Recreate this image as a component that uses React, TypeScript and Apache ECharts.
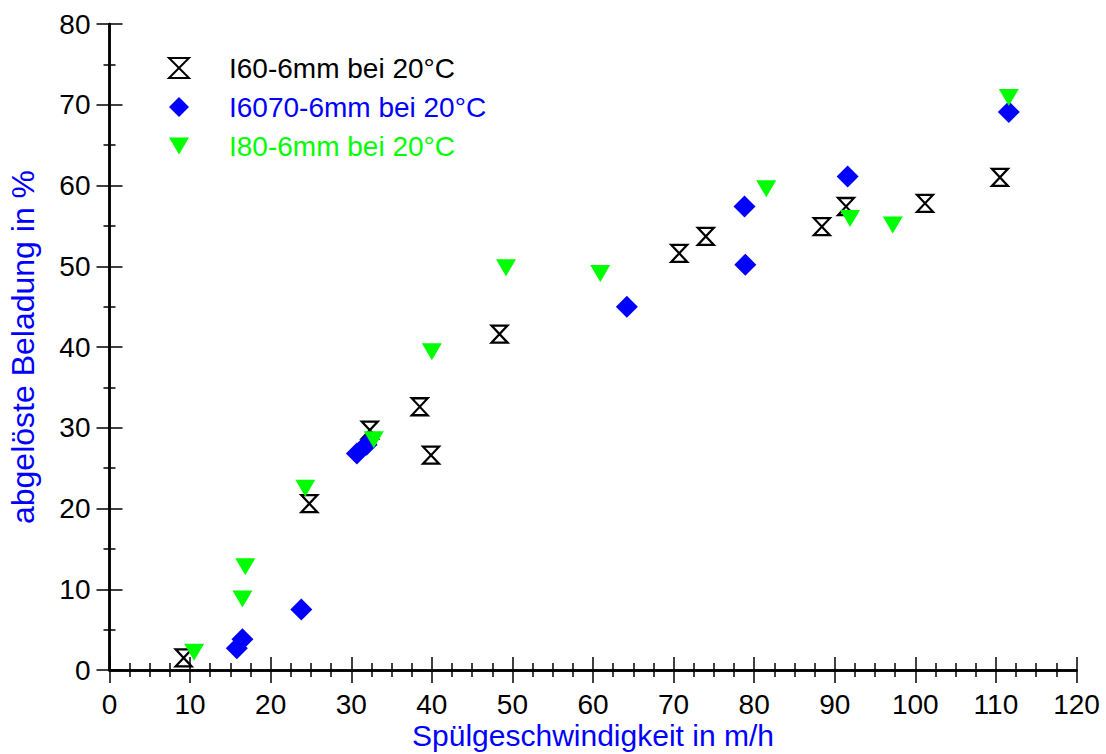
import React, { useEffect, useRef } from "react";
import * as echarts from "echarts";

const seriesNames = ["I60-6mm bei 20°C", "I6070-6mm bei 20°C", "I80-6mm bei 20°C"];
const seriesColors = ["#000000", "#0000ff", "#00ff00"];

const i60: [number, number][] = [
  [9.2, 1.5], [24.8, 20.6], [32.3, 29.7], [38.5, 32.6], [39.9, 26.6], [48.4, 41.6],
  [70.7, 51.6], [74.0, 53.7], [88.4, 54.9], [91.4, 57.4], [101.2, 57.8], [110.5, 61.0],
];
const i6070: [number, number][] = [
  [15.8, 2.7], [16.5, 3.8], [23.8, 7.5], [30.7, 26.8], [31.9, 27.9], [64.2, 45.0],
  [78.8, 57.4], [78.9, 50.2], [91.6, 61.1], [111.6, 69.1],
];
const i80: [number, number][] = [
  [10.5, 2.2], [16.5, 8.8], [16.85, 12.8], [24.3, 22.5], [32.8, 28.5], [40.0, 39.4],
  [49.2, 49.8], [60.9, 49.1], [81.5, 59.6], [91.9, 55.9], [97.2, 55.1], [111.6, 70.9],
];

const xTitle = "Spülgeschwindigkeit in m/h";
const yTitle = "abgelöste Beladung in %";
const xMin = 0, xMax = 120, xStep = 10;
const yMin = 0, yMax = 80, yStep = 10;

const FONT = "Liberation Sans, Arial, sans-serif";

export default function App() {
  const ref = useRef<HTMLDivElement>(null);
  useEffect(() => {
    if (!ref.current) return;
    const chart = echarts.init(ref.current, null, { renderer: "svg" });
    const axisLine = { show: true, lineStyle: { color: "#000", width: 2.5 } };
    const axisTick = { show: true, inside: false, length: 13, lineStyle: { color: "#000", width: 1.5 } };
    const minorTickX = { show: true, splitNumber: 4, length: 7, lineStyle: { color: "#000", width: 1.5 } };
    const minorTickY = { show: true, splitNumber: 2, length: 6, lineStyle: { color: "#000", width: 1.5 } };
    const hourglass = "path://M0,0L10,0L0,10L10,10Z";
    const downTriangle = "path://M0,0L20,0L10,17Z";
    chart.setOption({
      animation: false,
      backgroundColor: "#fff",
      textStyle: { fontFamily: FONT },
      grid: {
        left: 109.5, right: 29.5, top: 24, bottom: 84, containLabel: false,
        outerBoundsMode: "none",
      },
      legend: {
        left: 168,
        top: 54,
        orient: "vertical",
        padding: 0,
        itemWidth: 20,
        itemHeight: 20,
        itemGap: 11,
        textStyle: { fontFamily: FONT, fontSize: 28, lineHeight: 28, padding: [0, 0, 0, 35] },
        data: seriesNames.map((n, i) => ({ name: n, textStyle: { color: seriesColors[i] } })),
      },
      xAxis: [
        {
          type: "value", position: "bottom", min: xMin, max: xMax, interval: xStep,
          axisLine, axisTick, minorTick: minorTickX, splitLine: { show: false },
          axisLabel: { color: "#000", fontSize: 28, margin: 20, fontFamily: FONT },
          name: xTitle, nameLocation: "middle", nameGap: 50, nameMoveOverlap: false,
          nameTextStyle: { color: "#0000ff", fontSize: 30, lineHeight: 30, fontFamily: FONT },
        },
        {
          type: "value", position: "top", min: xMin, max: xMax, interval: xStep,
          axisLine, axisTick, minorTick: minorTickX, splitLine: { show: false },
          axisLabel: { show: false },
        },
      ],
      yAxis: [
        {
          type: "value", position: "left", min: yMin, max: yMax, interval: yStep,
          axisLine, axisTick, minorTick: minorTickY, splitLine: { show: false },
          axisLabel: { color: "#000", fontSize: 28, margin: 19, fontFamily: FONT },
          name: yTitle, nameLocation: "middle", nameGap: 71,
          nameTextStyle: { color: "#0000ff", fontSize: 32, lineHeight: 32, fontFamily: FONT },
        },
        {
          type: "value", position: "right", min: yMin, max: yMax, interval: yStep,
          axisLine, axisTick, minorTick: minorTickY, splitLine: { show: false },
          axisLabel: { show: false },
        },
      ],
      series: [
        {
          name: seriesNames[0], type: "scatter", data: i60, symbol: hourglass, symbolSize: [16, 17],
          itemStyle: { color: "rgba(255,255,255,0)", borderColor: "#000", borderWidth: 2.2, opacity: 1 },
          z: 2,
        },
        {
          name: seriesNames[1], type: "scatter", data: i6070, symbol: "diamond", symbolSize: [22, 22],
          itemStyle: { color: seriesColors[1], opacity: 1 }, z: 3,
        },
        {
          name: seriesNames[2], type: "scatter", data: i80, symbol: downTriangle,
          symbolSize: [20, 17], itemStyle: { color: seriesColors[2], opacity: 1 }, z: 4,
        },
      ],
    });
    return () => chart.dispose();
  }, []);
  return <div ref={ref} style={{ width: 1106, height: 754, position: "absolute", left: 0, top: 0 }} />;
}
